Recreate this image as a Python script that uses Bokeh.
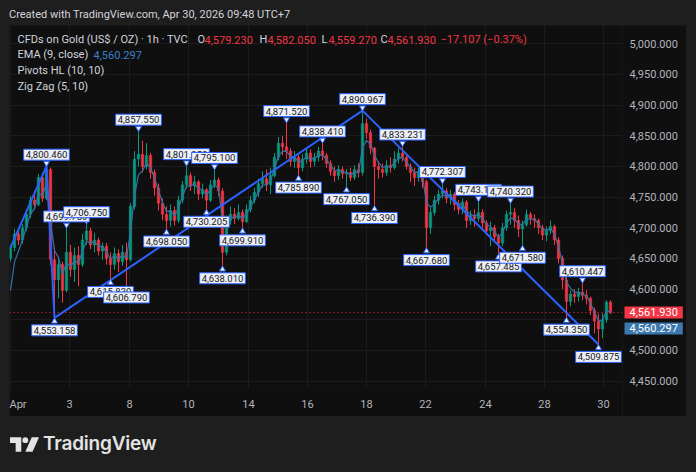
from bokeh.plotting import figure
from bokeh.models import (Range1d, FixedTicker, Span, Label, Grid,
                          Div, Spacer, ColumnDataSource)
from bokeh.layouts import column, row
from bokeh.core.properties import value
from bokeh.embed import file_html
from bokeh.resources import INLINE

# ---------------- data ----------------
open0 = 4650.0
close = [
    4668, 4690, 4680, 4700, 4722, 4745, 4738, 4782, 4748, 4795,
    4648, 4615, 4640, 4598, 4660, 4632, 4655, 4640, 4680, 4695,
    4672, 4680, 4662, 4670, 4650, 4640, 4658, 4645, 4660, 4648,
    4735, 4812, 4820, 4800, 4818, 4790, 4765, 4740, 4722, 4712,
    4728, 4712, 4745, 4770, 4785, 4768, 4775, 4755, 4762, 4745,
    4770, 4778, 4760, 4660, 4712, 4722, 4715, 4725, 4710, 4730,
    4745, 4758, 4772, 4780, 4770, 4785, 4815, 4838, 4832, 4825,
    4808, 4815, 4798, 4812, 4822, 4808, 4815, 4825, 4818, 4805,
    4792, 4785, 4795, 4788, 4790, 4782, 4795, 4790, 4870, 4855,
    4830, 4800, 4795, 4790, 4802, 4798, 4812, 4822, 4815, 4800,
    4790, 4782, 4792, 4775, 4700, 4725, 4745, 4755, 4760, 4748,
    4755, 4738, 4730, 4742, 4712, 4720, 4715, 4725, 4708, 4695,
    4700, 4685, 4675, 4700, 4722, 4725, 4712, 4698, 4705, 4722,
    4715, 4712, 4700, 4688, 4695, 4702, 4680, 4650, 4615, 4580,
    4592, 4588, 4595, 4590, 4585, 4565, 4548, 4535, 4550, 4579, 4561.93,
]
high = [
    4672, 4698, 4700, 4706, 4728, 4752, 4760, 4788, 4790, 4800.46,
    4798, 4668, 4650, 4645, 4699.78, 4672, 4668, 4670, 4690, 4706.75,
    4700, 4692, 4684, 4676, 4675, 4660, 4668, 4665, 4672, 4676,
    4740, 4825, 4857.55, 4842, 4838, 4822, 4795, 4772, 4748, 4735,
    4738, 4735, 4752, 4776, 4801.35, 4790, 4785, 4778, 4772, 4765,
    4778, 4795.1, 4782, 4765, 4720, 4735, 4732, 4738, 4730, 4738,
    4752, 4765, 4780, 4792, 4795, 4798, 4822, 4848, 4850, 4871.52,
    4830, 4825, 4822, 4820, 4830, 4828, 4822, 4832, 4838.41, 4822,
    4810, 4800, 4802, 4800, 4796, 4798, 4802, 4805, 4890.967, 4878,
    4860, 4832, 4808, 4805, 4810, 4815, 4825, 4830, 4833.231, 4820,
    4805, 4798, 4800, 4795, 4778, 4732, 4752, 4762, 4772.307, 4765,
    4762, 4758, 4745, 4748, 4745, 4728, 4730, 4743.12, 4730, 4712,
    4710, 4705, 4690, 4708, 4728, 4740.32, 4732, 4720, 4712, 4730,
    4726, 4722, 4715, 4705, 4702, 4712, 4705, 4685, 4655, 4620,
    4598, 4600, 4602, 4610.447, 4598, 4588, 4570, 4560, 4560, 4582, 4582.05,
]
low = [
    4645, 4662, 4672, 4674, 4695, 4716, 4730, 4735, 4742, 4745,
    4640, 4553.158, 4585, 4578, 4595, 4620, 4612, 4605, 4636, 4672,
    4665, 4660, 4655, 4648, 4640, 4615.83, 4632, 4628, 4638, 4606.79,
    4645, 4730, 4800, 4790, 4795, 4780, 4752, 4728, 4712, 4698.05,
    4702, 4704, 4708, 4740, 4764, 4760, 4755, 4745, 4748, 4730.205,
    4742, 4765, 4752, 4638.01, 4655, 4705, 4706, 4712, 4699.91, 4708,
    4725, 4740, 4750, 4765, 4760, 4755, 4782, 4810, 4818, 4812,
    4800, 4798, 4785.89, 4792, 4805, 4798, 4800, 4808, 4810, 4798,
    4785, 4775, 4778, 4780, 4767.05, 4776, 4778, 4782, 4785, 4845,
    4820, 4736.39, 4780, 4782, 4785, 4790, 4795, 4805, 4808, 4795,
    4775, 4768, 4775, 4765, 4667.68, 4690, 4720, 4738, 4748, 4740,
    4738, 4728, 4722, 4722, 4700, 4705, 4702, 4710, 4700, 4688,
    4670, 4678, 4657.485, 4670, 4695, 4705, 4700, 4685, 4671.58, 4702,
    4705, 4700, 4690, 4680, 4678, 4690, 4672, 4642, 4600, 4554.35,
    4572, 4578, 4580, 4582, 4575, 4558, 4528, 4509.875, 4520, 4545, 4559.27,
]

xtick_pos = [0, 14.75, 29.75, 44.5, 59.5, 74.25, 89, 103.75, 118.75, 133.5, 148.25]
xtick_lab = ["Apr", "3", "8", "10", "14", "16", "18", "22", "24", "28", "30"]
ytick_vals = [4450, 4500, 4550, 4600, 4650, 4700, 4750, 4800, 4850, 4900, 4950, 5000]

hi_idx = [9, 14, 19, 32, 44, 51, 69, 78, 88, 98, 108, 117, 125, 143]
hi_val = [4800.46, 4699.78, 4706.75, 4857.55, 4801.35, 4795.1, 4871.52, 4838.41,
          4890.967, 4833.231, 4772.307, 4743.12, 4740.32, 4610.447]
lo_idx = [11, 25, 29, 39, 49, 53, 58, 72, 84, 91, 104, 122, 128, 139, 147]
lo_val = [4553.158, 4615.83, 4606.79, 4698.05, 4730.205, 4638.01, 4699.91, 4785.89,
          4767.05, 4736.39, 4667.68, 4657.485, 4671.58, 4554.35, 4509.875]

zz_idx = [0, 9, 11, 88, 147]
zz_val = [4668, 4800.46, 4553.158, 4890.967, 4509.875]

ema_len = 3
ema_start = 4598.0
last_price = 4561.93
ema_last = 4560.297
hdr_open, hdr_high, hdr_low, hdr_close = "4,579.230", "4,582.050", "4,559.270", "4,561.930"
hdr_change = "\u221217.107 (\u22120.37%)"

# ---------------- style ----------------
OUTER = "#1e1e1e"
PANEL = "#0f0f0f"
GRID = "#1c1c1c"
TXT = "#d1d4dc"
AXT = "#b2b5be"
UP = "#089981"
DN = "#f23645"
BLUE = "#2962ff"
EMA_C = "#3571a8"
EMA_BOX = "#3c78ae"
LBL_BG = "#eef0f5"
FONT = "Roboto"

FL, FR, FT, FB = 9, 622, 25, 388       # frame in page px
PANEL_H = 391                          # panel 25..416
PPU = 0.6134                           # px per price unit
X0, X1 = -0.25, 153.0
Y1 = 5029.8
Y0 = Y1 - (FB - FT) / PPU
AXW = 64                               # width of the price-scale strip
TAG_ZONE_PX = 12                       # price-scale labels hidden under the tags


def sx2x(px):
    return X0 + (px - FL) * (X1 - X0) / (FR - FL)


def sy2y(py):
    return Y1 - (py - FT) / PPU


n = len(close)
idx = list(range(n))
opens = [open0] + close[:-1]
cols = [UP if c >= o else DN for o, c in zip(opens, close)]
tops = [max(o, c) for o, c in zip(opens, close)]
bots = [min(o, c) for o, c in zip(opens, close)]

a = 2.0 / (ema_len + 1)
ema = [ema_start]
for c in close[1:]:
    ema.append(a * c + (1 - a) * ema[-1])

yr = Range1d(Y0, Y1)
p = figure(width=FR - FL, height=PANEL_H, x_range=Range1d(X0, X1), y_range=yr,
           y_axis_location=None, output_backend="svg", toolbar_location=None,
           min_border_left=0, min_border_right=0, min_border_top=0,
           min_border_bottom=PANEL_H - (FB - FT),
           background_fill_color=PANEL, border_fill_color=PANEL, outline_line_color=None)

p.xaxis.ticker = FixedTicker(ticks=xtick_pos)
p.xaxis.major_label_overrides = dict(zip(xtick_pos, xtick_lab))
ax = p.xaxis[0]
ax.axis_line_color = None
ax.major_tick_line_color = None
ax.minor_tick_line_color = None
ax.major_tick_out = 0
ax.major_tick_in = 0
ax.major_label_text_color = AXT
ax.major_label_text_font = FONT
ax.major_label_text_font_size = "11px"
ax.major_label_standoff = 9
p.xgrid.grid_line_color = GRID
ygrids = list(p.ygrid)
if ygrids:
    for g in ygrids:
        g.ticker = FixedTicker(ticks=ytick_vals)
        g.grid_line_color = GRID
else:
    p.add_layout(Grid(dimension=1, ticker=FixedTicker(ticks=ytick_vals), grid_line_color=GRID))

src = ColumnDataSource(dict(x=idx, o=opens, h=high, l=low, c=close, top=tops, bot=bots, col=cols))
p.segment("x", "h", "x", "l", source=src, line_color="col", line_width=1)
p.vbar("x", 0.62, "top", "bot", source=src, fill_color="col", line_color="col", line_width=0.5)

p.line(idx, ema, line_color=EMA_C, line_width=1.2)
p.line(zz_idx, zz_val, line_color=BLUE, line_width=2)

p.add_layout(Span(location=last_price, dimension="width", line_color=DN,
                  line_width=1, line_dash="1 3"))

# pivot label pointers
p.scatter(hi_idx, [v + 3.0 / PPU for v in hi_val], marker="inverted_triangle", size=6,
          fill_color=LBL_BG, line_color=BLUE, line_width=1)
p.scatter(lo_idx, [v - 3.5 / PPU for v in lo_val], marker="triangle", size=6,
          fill_color=LBL_BG, line_color=BLUE, line_width=1)

hsrc = ColumnDataSource(dict(x=hi_idx, y=hi_val, t=[f"{v:,.3f}" for v in hi_val]))
lsrc = ColumnDataSource(dict(x=lo_idx, y=lo_val, t=[f"{v:,.3f}" for v in lo_val]))
common = dict(text_font=value(FONT), text_font_size="9.5px", text_color="#131722",
              text_align="center", background_fill_color=LBL_BG,
              border_line_color=BLUE, border_line_width=1, padding=(2, 2))
p.text("x", "y", text="t", source=hsrc, text_baseline="bottom", y_offset=-6, **common)
p.text("x", "y", text="t", source=lsrc, text_baseline="top", y_offset=7, **common)


# legend block (top-left)
def lab(px, py, txt, color=TXT):
    p.add_layout(Label(x=sx2x(px), y=sy2y(py), text=txt, text_color=color,
                       text_font=FONT, text_font_size="11px",
                       text_align="left", text_baseline="middle"))


lab(17, 39, "CFDs on Gold (US$ / OZ) \u00b7 1h \u00b7 TVC")
lab(197, 39, "O"); lab(204, 39, hdr_open, DN)
lab(259, 39, "H"); lab(267, 39, hdr_high, DN)
lab(321, 39, "L"); lab(328, 39, hdr_low, DN)
lab(380, 39, "C"); lab(387, 39, hdr_close, DN)
lab(440, 39, hdr_change, DN)
lab(17, 54, "EMA (9, close)"); lab(93, 54, f"{ema_last:,.3f}", "#3a80c9")
lab(17, 70, "Pivots HL (10, 10)")
lab(17, 86, "Zig Zag (5, 10)")

# ---------------- price scale strip (shares the y scale) ----------------
q = figure(width=AXW, height=PANEL_H, x_range=Range1d(0, AXW), y_range=yr,
           x_axis_location=None, y_axis_location=None,
           output_backend="svg", toolbar_location=None,
           min_border_left=0, min_border_right=0, min_border_top=0,
           min_border_bottom=PANEL_H - (FB - FT),
           background_fill_color=PANEL, border_fill_color=PANEL, outline_line_color=None)
q.grid.visible = False
shown = [v for v in ytick_vals if abs(v - last_price) * PPU > TAG_ZONE_PX]
q.text(x=[7] * len(shown), y=shown, text=[f"{v:,.3f}" for v in shown],
       text_font=value(FONT), text_font_size="11px", text_color=AXT,
       text_align="left", text_baseline="middle")
q.text(x=[2], y=[last_price], text=[f"{last_price:,.3f}"],
       text_font=value(FONT), text_font_size="11px", text_color="white",
       text_align="left", text_baseline="middle",
       background_fill_color=DN, padding=(5, 2))
q.text(x=[2], y=[ema_last], y_offset=15, text=[f"{ema_last:,.3f}"],
       text_font=value(FONT), text_font_size="11px", text_color="white",
       text_align="left", text_baseline="middle",
       background_fill_color=EMA_BOX, padding=(5, 2))

header = Div(text=(
    '<div style="position:relative;width:696px;height:25px;">'
    '<span style="position:absolute;left:9px;top:8px;font-family:Roboto;font-size:11px;'
    'line-height:14px;color:#d1d4dc;white-space:nowrap;">'
    'Created with TradingView.com, Apr 30, 2026 09:48 UTC+7</span></div>'),
    width=696, height=25, margin=0)

logo = Div(text=(
    '<div style="position:relative;width:696px;height:56px;">'
    '<svg style="position:absolute;left:10px;top:21px" width="29" height="15" viewBox="0 0 36 18">'
    '<path d="M0 0H14V18H7V7H0Z" fill="#e3e3e3"/>'
    '<circle cx="19" cy="3.6" r="3.6" fill="#e3e3e3"/>'
    '<path d="M27 0H36L28 18H19Z" fill="#e3e3e3"/></svg>'
    '<span style="position:absolute;left:43px;top:17px;font-family:Inter;font-weight:600;'
    'font-size:19px;line-height:22px;color:#e3e3e3;letter-spacing:-0.2px;">TradingView</span>'
    '</div>'),
    width=696, height=56, margin=0)

body = row(Spacer(width=FL, height=PANEL_H, margin=0), p, q,
           Spacer(width=696 - FR - AXW, height=PANEL_H, margin=0), margin=0, spacing=0)
root = column(header, body, logo, margin=0, spacing=0, width=696, height=472,
              styles={"background-color": OUTER})

open("out.html", "w").write(file_html(root, INLINE))
